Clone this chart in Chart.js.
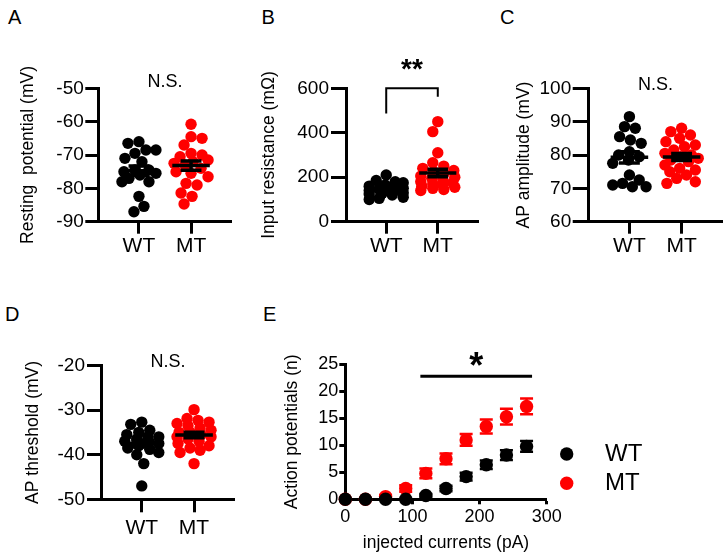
<!DOCTYPE html>
<html><head><meta charset="utf-8">
<script src="https://cdn.jsdelivr.net/npm/chart.js@4.4.1/dist/chart.umd.min.js"></script>
<style>
html,body{margin:0;padding:0;background:#fff;}
#fig{position:relative;width:728px;height:560px;overflow:hidden;background:#fff;font-family:"Liberation Sans",Arial,Helvetica,sans-serif;}
canvas{position:absolute;}
.lbl{position:absolute;font-size:20px;line-height:20px;color:#000;}
</style></head><body>
<div id="fig">
<div class="lbl" style="left:8px;top:7.4px">A</div>
<div class="lbl" style="left:261.5px;top:7.4px">B</div>
<div class="lbl" style="left:500px;top:7.4px">C</div>
<div class="lbl" style="left:5px;top:304.4px">D</div>
<div class="lbl" style="left:263px;top:304.4px">E</div>
<canvas id="cA" width="245" height="268" style="left:0px;top:0px"></canvas>
<canvas id="cB" width="240" height="268" style="left:245px;top:0px"></canvas>
<canvas id="cC" width="243" height="268" style="left:485px;top:0px"></canvas>
<canvas id="cD" width="245" height="290" style="left:0px;top:270px"></canvas>
<canvas id="cE" width="468" height="290" style="left:260px;top:270px"></canvas>
</div>
<script>
// ---------- data ----------
const CATS = ['WT', 'MT'];
const A_WT = [-66, -66.5, -68.5, -68.5, -69.5, -71, -72, -74.5, -74.5, -75, -75.5, -76, -77, -78, -78, -82.4, -85.4, -87];
const A_MT = [-60.8, -64.5, -65, -67, -69.5, -70, -70.5, -71.5, -72, -72.5, -73, -74, -75, -75.5, -76.5, -78.5, -79, -81.4, -82.4, -84.7];
const B_WT = [210, 185, 180, 175, 165, 160, 155, 150, 145, 140, 135, 130, 128, 125, 120, 110, 105, 100];
const B_MT = [450, 405, 310, 265, 250, 240, 230, 225, 215, 205, 200, 195, 190, 180, 175, 170, 165, 160, 155, 150, 145, 140];
const C_WT = [91.5, 88.5, 88, 85.5, 84.5, 83.5, 81, 80, 79.5, 78.5, 77.5, 74, 72.5, 71.5, 71, 70.5, 70.5];
const C_MT = [88, 87, 86, 85, 84, 83, 82.5, 81.5, 80.5, 80, 79.5, 79, 78.5, 78, 77, 76, 75.5, 75, 74, 73, 72, 71.5];
const D_WT = [-32.7, -33.2, -34.5, -35, -35.5, -36, -36, -36.5, -37, -37, -37.5, -38, -38.5, -38.8, -39.5, -40, -42, -47];
const D_MT = [-29.9, -31.9, -32.3, -32.7, -33, -33.5, -34, -34.5, -35, -35, -35.5, -36, -36, -36.5, -37, -37.5, -38, -38.5, -39, -39.5, -42];
const E_CURRENTS = [0, 30, 60, 90, 120, 150, 180, 210, 240, 270];
const E_WT = [0, 0, 0, 0, 0.7, 2.0, 4.2, 6.4, 8.2, 9.8];
const E_MT = [0, 0, 0.5, 2.0, 4.8, 7.5, 11.0, 13.5, 15.3, 17.2];
const E_WT_SEM = [0, 0, 0, 0, 0.3, 0.5, 0.7, 0.8, 0.9, 1.0];
const E_MT_SEM = [0, 0, 0.3, 0.6, 0.9, 1.0, 1.1, 1.3, 1.45, 1.45];
const B_BRACKET_X = [0, 0, 1, 1];
const B_BRACKET_Y = [487, 600, 600, 562];
const E_SIG_RANGE = [120, 270];
const E_SIG_LEVEL = 22.8;

// ---------- style ----------
const FONT = '"Liberation Sans", Arial, Helvetica, sans-serif';
const BLACK = '#000000', RED = '#ff0000';
const DOT_R = 5.7, E_R = 6.7;
const SWARM_MAX = 17;          // max horizontal spread of dot centres (px)
const MEAN_HW = 0.36, CAP_HW = 0.2;
const X_MIN = -0.78, X_MAX = 1.78;
const TITLE_SIZE = 17.5, TITLE_LH = TITLE_SIZE * 1.2;
const TICK_SIZE = 19;
Chart.defaults.font.family = FONT;
Chart.defaults.color = BLACK;

function mean(a) { return a.reduce((s, v) => s + v, 0) / a.length; }
function sem(a) {
  const m = mean(a);
  const sd = Math.sqrt(a.reduce((s, v) => s + (v - m) * (v - m), 0) / (a.length - 1));
  return sd / Math.sqrt(a.length);
}
// bounded beeswarm: returns pixel offsets from the category centre
function swarm(values, pxY, r) {
  const D = 2 * r * 0.95;
  const idx = values.map((v, i) => i).sort((a, b) => values[b] - values[a]);
  const placed = [];
  const off = new Array(values.length);
  let flip = 1;
  for (const i of idx) {
    const y = values[i] * pxY;
    let best = 0, bestScore = Infinity;
    for (let k = 0; k <= 2 * SWARM_MAX; k++) {
      const mag = Math.ceil(k / 2);
      const c = (k % 2 ? flip : -flip) * mag;
      let score = 0;
      for (const p of placed) {
        const d = Math.hypot(p.x - c, p.y - y);
        if (d < D) score += (D - d);
      }
      if (score < bestScore - 0.05) { bestScore = score; best = c; }
      if (score === 0) break;
    }
    flip = -flip;
    placed.push({ x: best, y });
    off[i] = best;
  }
  return off;
}

// ---------- plugins ----------
const annot = {
  id: 'annot',
  afterDatasetsDraw(chart, args, o) {
    const { ctx, chartArea: a, scales: { x, y } } = chart;
    ctx.save();
    ctx.fillStyle = BLACK; ctx.strokeStyle = BLACK;
    if (o.bracket) {
      const b = o.bracket;
      ctx.lineWidth = b.width;
      ctx.beginPath();
      b.xs.forEach((xv, i) => {
        const px = x.getPixelForValue(xv), py = y.getPixelForValue(b.ys[i]);
        if (i === 0) ctx.moveTo(px, py); else ctx.lineTo(px, py);
      });
      ctx.stroke();
    }
    if (o.sig) {
      const s = o.sig;
      ctx.lineWidth = s.width;
      ctx.beginPath();
      const py = y.getPixelForValue(s.level);
      ctx.moveTo(x.getPixelForValue(s.range[0]) - s.ext, py);
      ctx.lineTo(x.getPixelForValue(s.range[1]) + s.ext, py);
      ctx.stroke();
    }
    (o.texts || []).forEach(t => {
      ctx.font = (t.bold ? 'bold ' : '') + t.size + 'px ' + FONT;
      ctx.textAlign = 'center';
      ctx.textBaseline = 'alphabetic';
      ctx.fillText(t.text, x.getPixelForValue(t.x), a.top + t.dy);
    });
    ctx.restore();
  }
};
const errbars = {
  id: 'errbars',
  beforeDatasetsDraw(chart, args, o) {
    const { ctx, scales: { y } } = chart;
    ctx.save();
    chart.data.datasets.forEach((ds, di) => {
      if (!ds.sem) return;
      const meta = chart.getDatasetMeta(di);
      ctx.strokeStyle = ds.pointBackgroundColor;
      ctx.lineWidth = o.width;
      meta.data.forEach((pt, i) => {
        const s = ds.sem[i];
        if (!s) return;
        const v = ds.data[i].y;
        const y1 = y.getPixelForValue(v + s), y2 = y.getPixelForValue(v - s);
        ctx.beginPath();
        ctx.moveTo(pt.x, y1); ctx.lineTo(pt.x, y2);
        ctx.moveTo(pt.x - o.cap, y1); ctx.lineTo(pt.x + o.cap, y1);
        ctx.moveTo(pt.x - o.cap, y2); ctx.lineTo(pt.x + o.cap, y2);
        ctx.stroke();
      });
    });
    ctx.restore();
  }
};
const dotLegend = {
  id: 'dotLegend',
  afterDraw(chart, args, o) {
    const { ctx, chartArea: a } = chart;
    ctx.save();
    chart.data.datasets.forEach((ds, i) => {
      const cx = a.right + o.dx, cy = a.bottom + o.dyFirst + i * o.gap;
      ctx.fillStyle = ds.pointBackgroundColor;
      ctx.beginPath(); ctx.arc(cx, cy, o.r, 0, Math.PI * 2); ctx.fill();
      ctx.fillStyle = BLACK;
      ctx.font = o.size + 'px ' + FONT;
      ctx.textAlign = 'left'; ctx.textBaseline = 'middle';
      ctx.fillText(ds.label, cx + o.textGap, cy);
    });
    ctx.restore();
  }
};

function yAxis(P) {
  return {
    type: 'linear', min: P.yMin, max: P.yMax,
    ticks: { stepSize: P.yStep, color: BLACK, font: { size: P.tickSize || TICK_SIZE }, padding: P.ypad },
    grid: { display: true, drawOnChartArea: false, drawTicks: true, tickLength: P.ytl, tickWidth: 3, tickColor: BLACK },
    border: { display: true, color: BLACK, width: 3 },
    title: { display: true, text: P.yTitle, color: BLACK, font: { size: TITLE_SIZE }, padding: 0 },
    afterFit: s => { s.width = P.area.l - (P.titleX - TITLE_LH / 2); }
  };
}

function dotPanel(id, P) {
  const A = P.area;
  const pxX = (A.r - A.l) / (X_MAX - X_MIN);
  const pxY = (A.b - A.t) / (P.yMax - P.yMin);
  const pts = (vals, c) => { const off = swarm(vals, pxY, DOT_R); return vals.map((v, i) => ({ x: c + off[i] / pxX, y: v })); };
  const ms = (vals, c) => {
    const m = mean(vals), s = sem(vals);
    return [
      { x: c - MEAN_HW, y: m }, { x: c + MEAN_HW, y: m }, { x: c, y: null },
      { x: c - CAP_HW, y: m + s }, { x: c + CAP_HW, y: m + s }, { x: c, y: null },
      { x: c, y: m + s }, { x: c, y: m - s }, { x: c, y: null },
      { x: c - CAP_HW, y: m - s }, { x: c + CAP_HW, y: m - s }];
  };
  const lineDs = data => ({ data, showLine: true, borderColor: BLACK, borderWidth: 3.5, pointRadius: 0, order: 0, spanGaps: false, borderCapStyle: 'butt' });
  const dotDs = (label, vals, c, col) => ({ label, data: pts(vals, c), pointBackgroundColor: col, pointBorderColor: col, pointBorderWidth: 0, pointRadius: DOT_R, order: 2 });
  new Chart(document.getElementById(id), {
    type: 'scatter',
    data: { datasets: [lineDs(ms(P.wt, 0)), lineDs(ms(P.mt, 1)), dotDs(CATS[0], P.wt, 0, BLACK), dotDs(CATS[1], P.mt, 1, RED)] },
    options: {
      responsive: false, devicePixelRatio: 1, animation: false, events: [],
      layout: { padding: { left: P.titleX - TITLE_LH / 2, top: A.t, right: P.w - A.r, bottom: 0 } },
      plugins: { legend: { display: false }, tooltip: { enabled: false }, annot: P.annot },
      scales: {
        x: {
          type: 'linear', min: X_MIN, max: X_MAX,
          afterBuildTicks: s => { s.ticks = CATS.map((c, i) => ({ value: i })); },
          ticks: { callback: v => CATS[v], color: BLACK, font: { size: 21 }, padding: P.xpad, autoSkip: false, maxRotation: 0 },
          grid: { display: true, drawOnChartArea: false, drawTicks: true, tickLength: P.xtl, tickWidth: 3, tickColor: BLACK },
          border: { display: true, color: BLACK, width: 3 },
          afterFit: s => { s.height = P.h - A.b; }
        },
        y: yAxis(P)
      }
    },
    plugins: [annot]
  });
}

dotPanel('cA', {
  wt: A_WT, mt: A_MT, yMin: -90, yMax: -50, yStep: 10, yTitle: 'Resting  potential (mV)',
  w: 245, h: 268, area: { l: 98.3, t: 88.3, r: 231.7, b: 221.7 }, titleX: 28.3,
  ytl: 13, ypad: 1.5, xtl: 12, xpad: 0,
  annot: { texts: [{ text: 'N.S.', x: 0.5, dy: -1, size: 18 }] }
});
dotPanel('cB', {
  wt: B_WT, mt: B_MT, yMin: 0, yMax: 600, yStep: 200, yTitle: 'Input resistance (mΩ)',
  w: 240, h: 268, area: { l: 101, t: 88.3, r: 233, b: 221.7 }, titleX: 24,
  ytl: 15, ypad: 2, xtl: 12, xpad: 0,
  annot: { texts: [{ text: '**', x: 0.5, dy: -10.6, size: 28, bold: true }], bracket: { xs: B_BRACKET_X, ys: B_BRACKET_Y, width: 2 } }
});
dotPanel('cC', {
  wt: C_WT, mt: C_MT, yMin: 60, yMax: 100, yStep: 10, yTitle: 'AP amplitude (mV)',
  w: 243, h: 268, area: { l: 103.7, t: 88.3, r: 240, b: 221.7 }, titleX: 39,
  ytl: 16, ypad: 1.5, xtl: 12, xpad: 0,
  annot: { texts: [{ text: 'N.S.', x: 0.5, dy: 1.5, size: 18 }] }
});
dotPanel('cD', {
  wt: D_WT, mt: D_MT, yMin: -50, yMax: -20, yStep: 10, yTitle: 'AP threshold (mV)',
  w: 245, h: 290, area: { l: 101, t: 95.5, r: 234.8, b: 229.3 }, titleX: 33.3,
  ytl: 14, ypad: 2, xtl: 13, xpad: 3.5,
  annot: { texts: [{ text: 'N.S.', x: 0.5, dy: 1, size: 18 }] }
});

// ---------- panel E ----------
(function () {
  const P = { area: { l: 85.3, t: 94.3, r: 286.7, b: 229.3 }, w: 468, h: 290, titleX: 31.7, ytl: 6, ypad: 1,
    yMin: 0, yMax: 25, yStep: 5, yTitle: 'Action potentials (n)', tickSize: 18 };
  const series = (vals) => E_CURRENTS.map((x, i) => ({ x, y: vals[i] }));
  new Chart(document.getElementById('cE'), {
    type: 'scatter',
    data: { datasets: [
      { label: 'WT', data: series(E_WT), sem: E_WT_SEM, pointBackgroundColor: BLACK, pointBorderColor: BLACK, pointBorderWidth: 0, pointRadius: E_R, order: 0, clip: false },
      { label: 'MT', data: series(E_MT), sem: E_MT_SEM, pointBackgroundColor: RED, pointBorderColor: RED, pointBorderWidth: 0, pointRadius: E_R, order: 1, clip: false }
    ] },
    options: {
      responsive: false, devicePixelRatio: 1, animation: false, events: [],
      layout: { padding: { left: P.titleX - TITLE_LH / 2, top: P.area.t, right: P.w - P.area.r, bottom: 0 } },
      plugins: {
        legend: { display: false }, tooltip: { enabled: false },
        annot: { texts: [{ text: '*', x: (E_SIG_RANGE[0] + E_SIG_RANGE[1]) / 2, dy: 13.7, size: 36, bold: true }],
                 sig: { range: E_SIG_RANGE, level: E_SIG_LEVEL, ext: 5.5, width: 3 } },
        errbars: { width: 2.5, cap: 6.5 },
        dotLegend: { dx: 20, dyFirst: -45.3, gap: 29.3, textGap: 38.3, size: 24, r: 6.7 }
      },
      scales: {
        x: {
          type: 'linear', min: 0, max: 300,
          ticks: { stepSize: 100, color: BLACK, font: { size: 18 }, padding: 1.6, maxRotation: 0 },
          grid: { display: true, drawOnChartArea: false, drawTicks: true, tickLength: 5, tickWidth: 3, tickColor: BLACK },
          border: { display: true, color: BLACK, width: 3 },
          title: { display: true, text: 'injected currents (pA)', color: BLACK, font: { size: TITLE_SIZE }, padding: { top: 0, bottom: 6 } },
          afterFit: s => { s.height = P.h - P.area.b; }
        },
        y: yAxis(P)
      }
    },
    plugins: [errbars, annot, dotLegend]
  });
})();
</script>
</body></html>
